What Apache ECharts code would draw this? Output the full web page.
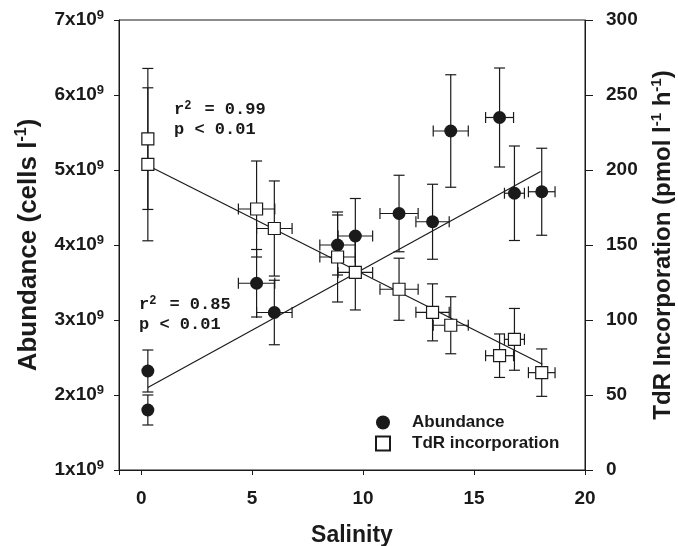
<!DOCTYPE html>
<html>
<head>
<meta charset="utf-8">
<script src="https://cdn.jsdelivr.net/npm/echarts@6/dist/echarts.min.js"></script>
<style>
  html, body { margin: 0; padding: 0; background: #fff; }
  #chart { width: 678px; height: 546px; }
</style>
</head>
<body>
<div id="chart"></div>
<script>
// salinity of each sample and its error (same samples for both series)
var salinity = [0.3, 0.3, 5.2, 6.0, 8.85, 9.65, 11.62, 13.13, 13.95, 16.15, 16.82, 18.05];
var salinityErr = [0, 0, 0.82, 0.8, 0.8, 0.78, 0.86, 0.75, 0.79, 0.63, 0.45, 0.6];

// bacterial abundance, in units of 1x10^9 cells l-1
var abundance = [2.32, 1.80, 3.49, 3.10, 4.00, 4.12, 4.42, 4.31, 5.52, 5.70, 4.69, 4.71];
var abundanceErr = [0.28, 0.20, 0.45, 0.43, 0.40, 0.50, 0.51, 0.50, 0.75, 0.66, 0.63, 0.58];

// TdR incorporation, pmol l-1 h-1
var tdr = [220.7, 203.8, 174, 161, 142, 131.7, 120.5, 105.1, 96.5, 76.2, 87.1, 64.9];
var tdrErr = [47, 51, 32, 31.7, 30, 25, 20.7, 19, 19, 14.5, 20.6, 15.8];

// regression lines (end points)
var abundFitX = [0.3, 18.0];
var abundFitY = [2.10, 4.98];
var tdrFitX = [0.3, 18.08];
var tdrFitY = [203, 70.5];

var ink = '#1a1a1a';
var sans = 'Liberation Sans';
var mono = 'Liberation Mono';

function zip(xs, ys) {
    return xs.map(function (x, i) { return [x, ys[i]]; });
}

function errData(ys, yerr) {
    return salinity.map(function (x, i) { return [x, ys[i], salinityErr[i], yerr[i]]; });
}

function errorBars(params, api) {
    var x = api.value(0), y = api.value(1), xe = api.value(2), ye = api.value(3);
    var cap = 5.5;
    var st = {stroke: ink, lineWidth: 1.2};
    var kids = [];
    if (ye > 0) {
        var t = api.coord([x, y + ye]), b = api.coord([x, y - ye]);
        kids.push({type: 'line', shape: {x1: t[0], y1: t[1], x2: b[0], y2: b[1]}, style: st});
        kids.push({type: 'line', shape: {x1: t[0] - cap, y1: t[1], x2: t[0] + cap, y2: t[1]}, style: st});
        kids.push({type: 'line', shape: {x1: b[0] - cap, y1: b[1], x2: b[0] + cap, y2: b[1]}, style: st});
    }
    if (xe > 0) {
        var l = api.coord([x - xe, y]), r = api.coord([x + xe, y]);
        kids.push({type: 'line', shape: {x1: l[0], y1: l[1], x2: r[0], y2: r[1]}, style: st});
        kids.push({type: 'line', shape: {x1: l[0], y1: l[1] - cap, x2: l[0], y2: l[1] + cap}, style: st});
        kids.push({type: 'line', shape: {x1: r[0], y1: r[1] - cap, x2: r[0], y2: r[1] + cap}, style: st});
    }
    return {type: 'group', children: kids};
}

var chart = echarts.init(document.getElementById('chart'));

var monoRich = {
    r: {fontFamily: mono, fontWeight: 'bold', fontSize: 17, lineHeight: 20, fill: ink},
    s: {fontFamily: mono, fontWeight: 'bold', fontSize: 12, lineHeight: 20, width: 10, verticalAlign: 'top', padding: [0, 0, 8, 0], fill: ink}
};

chart.setOption({
    animation: false,
    grid: {
        left: 119, right: 93, top: 20, bottom: 76,
        containLabel: false, outerBoundsMode: 'none',
        show: true, borderColor: ink, borderWidth: 1
    },
    legend: {
        data: ['Abundance', 'TdR incorporation'],
        orient: 'vertical',
        left: 370,
        top: 409,
        itemWidth: 14,
        itemHeight: 14,
        itemGap: 4,
        textStyle: {fontFamily: sans, fontWeight: 'bold', fontSize: 17, color: ink, padding: [0, 0, 0, 17]}
    },
    xAxis: {
        type: 'value',
        min: -1,
        max: 20,
        name: 'Salinity',
        nameLocation: 'middle',
        nameGap: 54,
        nameTextStyle: {fontFamily: sans, fontWeight: 'bold', fontSize: 23, color: ink},
        axisLine: {onZero: false, lineStyle: {color: ink, width: 1}},
        axisTick: {length: 5, lineStyle: {color: ink}},
        axisLabel: {
            margin: 19,
            fontFamily: sans, fontWeight: 'bold', fontSize: 19, color: ink,
            formatter: function (v) { return v % 5 === 0 ? String(v) : ''; }
        },
        splitLine: {show: false}
    },
    yAxis: [{
        type: 'value',
        min: 1,
        max: 7,
        interval: 1,
        name: 'Abundance (cells l{sup|-1})',
        nameLocation: 'middle',
        nameRotate: 90,
        nameGap: 72,
        nameTextStyle: {
            fontFamily: sans, fontWeight: 'bold', fontSize: 26, color: ink, lineHeight: 30,
            rich: {sup: {fontFamily: sans, fontWeight: 'bold', fontSize: 16, lineHeight: 16, verticalAlign: 'top', color: ink}}
        },
        axisLine: {show: true, onZero: false, lineStyle: {color: ink, width: 1}},
        axisTick: {length: 5, lineStyle: {color: ink}},
        axisLabel: {
            margin: 15,
            formatter: function (v) { return '{b|' + v + 'x10}{s|9}'; },
            rich: {
                b: {fontFamily: sans, fontWeight: 'bold', fontSize: 19, lineHeight: 22, color: ink},
                s: {fontFamily: sans, fontWeight: 'bold', fontSize: 13, lineHeight: 13, verticalAlign: 'top', color: ink}
            }
        },
        splitLine: {show: false}
    }, {
        type: 'value',
        position: 'right',
        min: 0,
        max: 300,
        interval: 50,
        name: 'TdR Incorporation (pmol l{sup|-1} h{sup|-1})',
        nameLocation: 'middle',
        nameRotate: 90,
        nameGap: 64,
        nameTextStyle: {
            fontFamily: sans, fontWeight: 'bold', fontSize: 24, color: ink, lineHeight: 28,
            rich: {sup: {fontFamily: sans, fontWeight: 'bold', fontSize: 15, lineHeight: 15, verticalAlign: 'top', color: ink}}
        },
        axisLine: {show: true, onZero: false, lineStyle: {color: ink, width: 1}},
        axisTick: {length: 8, lineStyle: {color: ink}},
        axisLabel: {margin: 21, fontFamily: sans, fontWeight: 'bold', fontSize: 19, color: ink},
        splitLine: {show: false}
    }],
    graphic: [{
        type: 'text',
        left: 174,
        top: 100,
        style: {text: '{r|r}{s|2}{r| = 0.99}\n{r|p < 0.01}', rich: monoRich}
    }, {
        type: 'text',
        left: 139,
        top: 295,
        style: {text: '{r|r}{s|2}{r| = 0.85}\n{r|p < 0.01}', rich: monoRich}
    }],
    series: [{
        name: 'abundance error',
        type: 'custom',
        xAxisIndex: 0,
        yAxisIndex: 0,
        renderItem: errorBars,
        encode: {x: 0, y: 1},
        data: errData(abundance, abundanceErr),
        z: 1
    }, {
        name: 'tdr error',
        type: 'custom',
        xAxisIndex: 0,
        yAxisIndex: 1,
        renderItem: errorBars,
        encode: {x: 0, y: 1},
        data: errData(tdr, tdrErr),
        z: 1
    }, {
        name: 'abundance fit',
        type: 'line',
        yAxisIndex: 0,
        showSymbol: false,
        silent: true,
        lineStyle: {color: ink, width: 1.2},
        data: zip(abundFitX, abundFitY),
        z: 2
    }, {
        name: 'tdr fit',
        type: 'line',
        yAxisIndex: 1,
        showSymbol: false,
        silent: true,
        lineStyle: {color: ink, width: 1.2},
        data: zip(tdrFitX, tdrFitY),
        z: 2
    }, {
        name: 'Abundance',
        type: 'scatter',
        yAxisIndex: 0,
        symbol: 'circle',
        symbolSize: 13,
        itemStyle: {color: ink, opacity: 1},
        data: zip(salinity, abundance),
        z: 3
    }, {
        name: 'TdR incorporation',
        type: 'scatter',
        yAxisIndex: 1,
        symbol: 'rect',
        symbolSize: 12,
        itemStyle: {color: '#fff', borderColor: ink, borderWidth: 1.2, opacity: 1},
        data: zip(salinity, tdr),
        z: 4
    }]
});
</script>
</body>
</html>
